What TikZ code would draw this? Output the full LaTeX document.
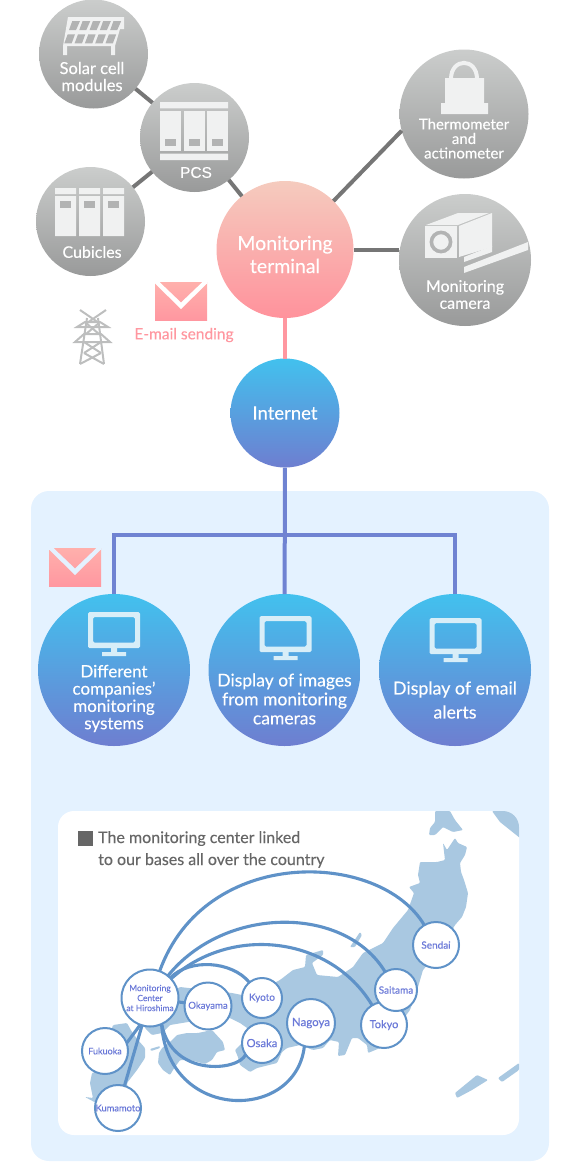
\documentclass[tikz,border=0pt]{standalone}
\usepackage{fontspec}
\setmainfont[FakeBold=0.2]{Lato}
\newfontfamily\pcsfont[FakeBold=0.3]{Liberation Sans}
\usepackage{xcolor}
\usepackage{tikz}
\usetikzlibrary{
  positioning,
  calc
}
\definecolor{greytop}{HTML}{CBCDCC}
\definecolor{greybot}{HTML}{999A9A}
\definecolor{pinktop}{HTML}{F5CBBE}
\definecolor{pinkbot}{HTML}{FF929C}
\definecolor{mailtop}{HTML}{FFB0AC}
\definecolor{mailbot}{HTML}{FF97A0}
\definecolor{bluetop}{HTML}{42C1EE}
\definecolor{bluebot}{HTML}{6E7ED0}
\definecolor{panelblue}{HTML}{E4F2FF}
\definecolor{busblue}{HTML}{6F83D2}
\definecolor{linkblue}{HTML}{5F92C8}
\definecolor{landblue}{HTML}{A9C8E1}
\definecolor{cityblue}{HTML}{6A78D8}
\definecolor{iconwhite}{HTML}{F0F1F1}
\definecolor{iconblue}{HTML}{D8EEF8}
\definecolor{cellgrey}{HTML}{B2B3B3}
\definecolor{linegrey}{HTML}{767676}
\definecolor{towergrey}{HTML}{BDBEBE}
\definecolor{titlegrey}{HTML}{666666}
\newcommand{\mailicon}[3]{
  \shade[top color=mailtop,bottom color=mailbot] (#1,#2) rectangle ++(52,38);
  \fill[#3] (#1,#2)--(#1,#2+1.5)--(#1+26,#2+27)--(#1+52,#2+1.5)--(#1+52,#2)--(#1+47.5,#2)--(#1+26,#2+20.5)--(#1+4.5,#2)--cycle;
}
\newcommand{\monitoricon}[2]{
  \fill[iconblue,even odd rule,rounded corners=1.5pt] (#1-26,#2) rectangle ++(52,36) (#1-21,#2+5) rectangle ++(42,25.5);
  \fill[iconblue] (#1-3,#2+36) rectangle ++(6,5) (#1-12,#2+40) rectangle ++(24,4);
}
\begin{document}
\begin{tikzpicture}[
  x=1pt,y=-1pt,
  g/.style={circle,inner sep=0pt,outer sep=0pt,minimum size=109pt,shade,top color=greytop,bottom color=greybot},
  p/.style={circle,inner sep=0pt,outer sep=0pt,minimum size=137pt,shade,top color=pinktop,bottom color=pinkbot},
  b/.style={circle,inner sep=0pt,outer sep=0pt,minimum size=152pt,shade,top color=bluetop,bottom color=bluebot},
  city/.style={circle,draw=linkblue,line width=2pt,fill=white,inner sep=0pt,outer sep=0pt,text=cityblue,align=center,font=\fontsize{10}{11}\selectfont},
  t/.style={text=white,align=center,inner sep=0pt},
  a/.style={linegrey,line width=4pt},
  bus/.style={busblue,line width=4pt},
  l/.style={linkblue,line width=3.1pt}
]
\useasboundingbox (0,0) rectangle (580,1167);
\fill[panelblue,rounded corners=18pt] (31,491) rectangle (549,1161);
\fill[white,rounded corners=16pt] (58,811) rectangle (519,1135);

\begin{scope}
\clip[rounded corners=16pt] (58,811) rectangle (519,1135);
\begin{scope}[landblue,rounded corners=1pt]
\fill (447,850)--(455,838)--(458,843)--(467,847)--(465,855)--(460,863)--(461,872)--(464,880)--(468,893)--(466,907)--(462,917)--(455,925)--(440,950)--(423,970)--(418,987)--(410,1010)--(395,1030)--(380,1048)--(368,1053)--(367,1045)--(358,1038)--(352,1038)--(345,1055)--(338,1056)--(339,1042)--(330,1040)--(323,1048)--(313,1050)--(300,1045)--(287,1048)--(282,1052)--(277,1063)--(257,1068)--(250,1072)--(240,1065)--(238,1057)--(235,1050)--(245,1040)--(250,1030)--(240,1023)--(230,1018)--(200,1020)--(170,1025)--(162,1033)--(152,1035)--(145,1028)--(140,1010)--(180,987)--(232,993)--(242,995)--(270,985)--(280,980)--(293,970)--(305,967)--(306,955)--(323,950)--(323,955)--(312,963)--(317,975)--(338,977)--(353,967)--(363,953)--(383,943)--(393,928)--(408,910)--(414,893)--(409,887)--(420,883)--(418,875)--(420,862)--(437,862)--(445,860)--(443,843)--cycle;
\fill (170,1042)--(177,1035)--(187,1033)--(198,1033)--(212,1030)--(223,1042)--(225,1050)--(217,1052)--(212,1060)--(205,1064)--(190,1060)--(180,1060)--(173,1070)--(170,1075)--(163,1070)--(158,1063)--(159,1053)--(162,1048)--cycle;
\fill (113,1025)--(127,1023)--(132,1032)--(138,1040)--(145,1048)--(145,1058)--(137,1070)--(127,1083)--(130,1110)--(118,1125)--(100,1105)--(85,1097)--(93,1098)--(90,1083)--(92,1073)--(100,1070)--cycle;
\fill (150,1049)--(160,1046)--(160,1048)--(151,1051)--cycle;
\fill (350,947)--(360,932)--(362,935)--(355,947)--cycle;
\fill (455,1093)--(477,1075)--(488,1080)--(472,1090)--(457,1098)--cycle;
\fill (498,1078)--(519,1063)--(519,1070)--(502,1082)--cycle;
\fill (435,811)--(450,811)--(455,820)--(463,830)--(453,832)--(443,827)--(435,835)--(429,835)--(430,828)--(435,822)--cycle;
\fill (492,811)--(525,811)--(525,842)--(510,830)--(500,822)--cycle;
\end{scope}
\end{scope}

\node[g] (solar) at (93.5,54) {};
\node[g] (pcs) at (194.5,137.5) {};
\node[g] (cubicles) at (90.5,221.5) {};
\node[p] (terminal) at (285,249.5) {};
\node[g,minimum size=129pt] (thermo) at (464,114) {};
\node[g,minimum size=132pt] (camera) at (465,260) {};
\node[b,minimum size=109pt] (internet) at (285,413) {};
\node[b] (companies) at (114,670) {};
\node[b] (images) at (284.5,670) {};
\node[b] (alerts) at (455,670) {};
\coordinate (busmid) at (285,535);

\draw[a] (solar)--(pcs);
\draw[a] (cubicles)--(pcs);
\draw[a] (pcs)--(terminal);
\draw[a] (terminal.45)--(thermo.195);
\draw[a] (terminal.east)--(camera.west |- terminal.east);
\draw[mailbot,line width=4pt] (terminal)--(internet);
\draw[bus] (internet)--(images);
\draw[bus] (companies.north) |- (busmid) -| (alerts.north);

\fill[iconwhite] (68,17)--(124,17)--(124,29)--(120,29)--(115,46)--(63,46)--cycle;
\fill[iconwhite] (63,46) rectangle (67,55) (111,46) rectangle (115,55);
\foreach \i in {0,...,4}{
  \fill[cellgrey] (69+\i*10.3,30)--(76+\i*10.3,30)--(80+\i*10.3,21)--(72.3+\i*10.3,21)--cycle;
  \fill[cellgrey] (64.3+\i*10.3,43.3)--(71.7+\i*10.3,43.3)--(75+\i*10.3,34.3)--(67.7+\i*10.3,34.3)--cycle;
}
\fill[iconwhite] (160,102) rectangle (228,108.3) (160,153.7) rectangle (228,160);
\foreach \x in {160,184,207}{
  \fill[iconwhite] (\x,111) rectangle ++(21,40);
  \fill[cellgrey] (\x+5,139) rectangle ++(11,6.7);
}
\foreach \x in {55,79,103}{
  \fill[iconwhite] (\x,188) rectangle ++(21,6) (\x,196) rectangle ++(21,40);
  \fill[cellgrey] (\x+5,201) rectangle ++(11,7);
}
\fill[iconwhite] (441,103) rectangle (488,114) (445,78) rectangle (484,103);
\draw[iconwhite,line width=4pt] (451,79) .. controls (451,57.5) and (477,57.5) .. (477,79);
\fill[iconwhite] (425,226) rectangle (457,258);
\draw[cellgrey,line width=3.6pt] (441,242) circle (9.6);
\fill[iconwhite] (426,225)--(458,225)--(489,213)--(458,213)--cycle;
\fill[iconwhite] (459,226)--(492,213)--(492,247)--(459,257)--cycle;
\fill[iconwhite] (464,257)--(492,246)--(492,252)--(464,262)--cycle;
\fill[iconwhite] (464,267)--(528,242)--(528,250)--(464,273)--cycle;

\begin{scope}[towergrey,line width=2pt]
\draw (87,318)--(80,364) (98,318)--(104,364);
\draw (80,310)--(99,323) (106,310)--(87,323);
\draw (77,327)--(85,322)--(100,322)--(108,327)--cycle;
\draw (75,342)--(84,334)--(101,334)--(110,342)--cycle;
\draw (86,323)--(99,334) (99,323)--(86,334) (84,342)--(101,353) (101,342)--(84,353);
\draw (80,364)--(101,353) (104,364)--(84,353);
\end{scope}

\mailicon{155}{282}{white}
\mailicon{49}{548}{panelblue}
\monitoricon{114}{612}
\monitoricon{285.5}{616}
\monitoricon{455.5}{618}

\node[t,font=\fontsize{16.5}{17}\selectfont] (solarlbl) at (92,76.5) {Solar cell\\modules};
\node[t,font=\pcsfont\fontsize{15.5}{17}\selectfont] (pcslbl) at (196,172.5) {PCS};
\node[t,font=\fontsize{16}{17}\selectfont] (cubicleslbl) at (92,252) {Cubicles};
\node[t,font=\fontsize{19.5}{23}\selectfont] (terminallbl) at (285,254.5) {Monitoring\\terminal};
\node[t,font=\fontsize{15}{14.5}\selectfont] (thermolbl) at (464,138.5) {Thermometer\\and\\actinometer};
\node[t,font=\fontsize{16}{17}\selectfont] (cameralbl) at (465,294.5) {Monitoring\\camera};
\node[t,font=\fontsize{15.5}{17}\selectfont,text=mailbot] (maillbl) at (184,335) {E-mail sending};
\node[t,font=\fontsize{18.5}{20}\selectfont] (internetlbl) at (285,413) {Internet};
\node[t,font=\fontsize{17}{17.3}\selectfont] (companieslbl) at (114,698.5) {Different\\companies’\\monitoring\\systems};
\node[t,font=\fontsize{17.5}{19}\selectfont] (imageslbl) at (284.5,699) {Display of images\\from monitoring\\cameras};
\node[t,font=\fontsize{17.8}{24}\selectfont] (alertslbl) at (455,700) {Display of email\\alerts};

\fill[titlegrey] (78,831) rectangle (93,846);
\node[anchor=west,inner sep=0pt,align=left,text=titlegrey,font=\fontsize{16}{22}\selectfont] (titlelbl) at (98,849.5) {The monitoring center linked\\to our bases all over the country};

\node[city,minimum size=47pt,font=\fontsize{9.6}{11}\selectfont] (okayama) at (208,1006) {Okayama};
\node[city,minimum size=40pt] (kyoto) at (262,998) {Kyoto};
\node[city,minimum size=40pt,font=\fontsize{11.3}{12}\selectfont] (osaka) at (262,1043) {Osaka};
\node[city,minimum size=48pt,font=\fontsize{11.5}{12}\selectfont] (nagoya) at (311,1023) {Nagoya};
\node[city,minimum size=46pt,font=\fontsize{11}{12}\selectfont] (tokyo) at (384,1025) {Tokyo};
\node[city,minimum size=42pt] (saitama) at (396,990) {Saitama};
\node[city,minimum size=46pt] (sendai) at (436,945) {Sendai};
\node[city,minimum size=46pt,font=\fontsize{9}{11}\selectfont] (fukuoka) at (105,1051) {Fukuoka};
\node[city,minimum size=46pt,font=\fontsize{9.3}{11}\selectfont] (kumamoto) at (118,1108) {Kumamoto};
\node[city,minimum size=57pt,font=\fontsize{8.5}{10}\selectfont] (hiroshima) at (150,998) {Monitoring\\Center\\at Hiroshima};

\draw[l] (hiroshima) .. controls (205,845) and (380,850) .. (sendai);
\draw[l] (hiroshima) .. controls (225,905) and (345,905) .. (saitama);
\draw[l] (hiroshima) .. controls (230,925) and (330,935) .. (tokyo);
\draw[l] (hiroshima) .. controls (190,958) and (232,961) .. (kyoto);
\draw[l] (hiroshima) -- (okayama);
\draw[l] (hiroshima.294) .. controls (172,1078) and (239,1071) .. (osaka.215);
\draw[l] (hiroshima.294) .. controls (168,1122) and (296,1122) .. (nagoya.254);
\draw[l] (hiroshima.250) -- (fukuoka.20);
\draw[l] (hiroshima) -- (kumamoto);
\end{tikzpicture}
\end{document}
